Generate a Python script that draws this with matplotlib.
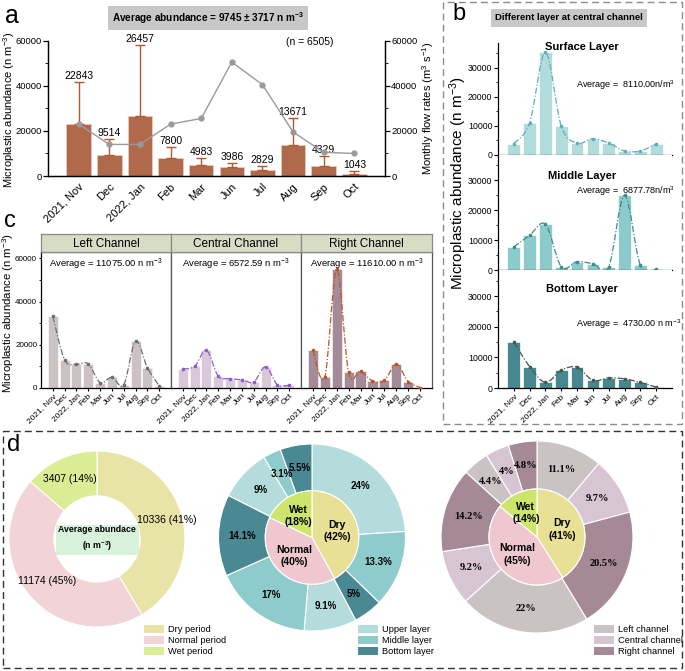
import numpy as np
import matplotlib
matplotlib.use('Agg')
import matplotlib.pyplot as plt
from matplotlib.path import Path
from matplotlib.patches import PathPatch, Rectangle, Patch
from matplotlib.ticker import AutoMinorLocator

plt.rcParams['font.family'] = ['Liberation Sans', 'DejaVu Sans']
plt.rcParams['mathtext.default'] = 'regular'
plt.rcParams['axes.linewidth'] = 0.9

# ---------------- data ----------------
months = ['2021, Nov', 'Dec', '2022, Jan', 'Feb', 'Mar', 'Jun', 'Jul', 'Aug', 'Sep', 'Oct']

# panel a
abund = [22843, 9514, 26457, 7800, 4983, 3986, 2829, 13671, 4329, 1043]
abund_err = [18957, 6700, 31550, 5000, 2920, 1710, 1570, 11830, 4470, 1260]
flow = [23000, 14000, 14000, 23000, 25500, 50500, 40500, 19500, 10500, 10000]

# panel b (central channel layers)
layer_names = ['Surface Layer', 'Middle Layer', 'Bottom Layer']
layer_avg = ['Average =  8110.00n/m$^{3}$', 'Average =  6877.78n/m$^{3}$', 'Average =  4730.00 n m$^{-3}$']
surface = [3900, 11100, 35300, 9900, 4100, 5600, 4100, 1400, 1400, 3800]
middle = [7700, 11600, 15300, 1100, 2800, 2100, 1100, 25000, 1600, 200]
bottom = [15000, 7000, 1800, 5800, 6800, 2500, 3300, 3000, 1800, 300]

# panel c (channels)
channel_names = ['Left Channel', 'Central Channel', 'Right Channel']
channel_avg = ['Average = 11075.00 n m$^{-3}$', 'Average = 6572.59 n m$^{-3}$', 'Average = 11610.00 n m$^{-3}$']
left_ch = [33200, 13000, 11000, 11200, 2500, 5000, 1500, 21800, 9400, 1000]
central_ch = [8800, 10000, 17500, 5500, 4300, 3800, 2800, 9800, 1500, 1300]
right_ch = [17500, 5000, 55000, 7200, 7800, 3300, 3500, 11000, 3000, 200]

# panel d
period_labels = ['Dry period', 'Normal period', 'Wet period']
period_values = [10336, 11174, 3407]
period_text = ['10336 (41%)', '11174 (45%)', '3407 (14%)']

inner_labels = ['Dry', 'Normal', 'Wet']
layer_inner = [42, 40, 18]
layer_outer = [24, 13.3, 5, 9.1, 17, 14.1, 9, 3.1, 5.5]
layer_legend = ['Upper layer', 'Middle layer', 'Bottom layer']

channel_inner = [41, 45, 14]
channel_outer = [11.1, 9.7, 20.5, 22, 9.2, 14.2, 4.4, 4, 4.8]
channel_legend = ['Left channel', 'Central channel', 'Right channel']

# ---------------- helpers ----------------
W, H = 685, 671
fig = plt.figure(figsize=(W / 100, H / 100), dpi=100)


def box(l, t, r, b):
    return [l / W, 1 - b / H, (r - l) / W, (b - t) / H]


def fx(x):
    return x / W


def fy(y):
    return 1 - y / H


def smooth_path(ax, xs, ys, color, lw=0.9, ls=(0, (5, 1.5, 1, 1.5))):
    xs = np.asarray(xs, float)
    ys = np.asarray(ys, float)
    n = len(xs)
    P = np.column_stack([xs, ys])
    verts = [P[0]]
    codes = [Path.MOVETO]
    for i in range(n - 1):
        p0 = P[i - 1] if i > 0 else P[i]
        p1 = P[i]
        p2 = P[i + 1]
        p3 = P[i + 2] if i + 2 < n else P[i + 1]
        c1 = p1 + (p2 - p0) / 6.0
        c2 = p2 - (p3 - p1) / 6.0
        verts += [c1, c2, p2]
        codes += [Path.CURVE4] * 3
    patch = PathPatch(Path(verts, codes), facecolor='none', edgecolor=color,
                      lw=lw, linestyle=ls, zorder=4, clip_on=True)
    ax.add_patch(patch)
    ax.plot(xs, ys, 'o', color=color, ms=1.6, zorder=5)


x = np.arange(len(months))

# ---------------- panel a ----------------
axa = fig.add_axes(box(48, 40.7, 385, 176))
axa.bar(x, abund, width=0.8, color='#b0694a', edgecolor='#e8c9b8', linewidth=0.6, zorder=2)
axa.errorbar(x, abund, yerr=[np.zeros(len(abund)), abund_err], fmt='none',
             ecolor='#b5562e', elinewidth=1.0, capsize=3.5, capthick=1.0, zorder=3)
for xi, v, e in zip(x, abund, abund_err):
    axa.text(xi, v + e + 500, f'{v}', ha='center', va='bottom', fontsize=7.5, zorder=6)
axa.set_xlim(-1, 10)
axa.set_ylim(0, 60000)
axa.set_yticks([0, 20000, 40000, 60000])
axa.yaxis.set_minor_locator(AutoMinorLocator(2))
axa.set_xticks(x)
axa.set_xticklabels(months, rotation=45, ha='right', rotation_mode='anchor', fontsize=8)
axa.tick_params(axis='x', length=0, pad=4)
axa.tick_params(axis='y', labelsize=6.8, length=3.5, width=0.9, pad=1)
axa.tick_params(axis='y', which='minor', length=2)
axa.spines['top'].set_visible(False)

axa2 = axa.twinx()
axa2.plot(x, flow, '-o', color='#9a9a9a', lw=1.0, ms=3.5, zorder=5)
axa2.set_ylim(0, 60000)
axa2.set_yticks([0, 20000, 40000, 60000])
axa2.yaxis.set_minor_locator(AutoMinorLocator(2))
axa2.tick_params(axis='y', labelsize=6.8, length=3.5, width=0.9, pad=1)
axa2.tick_params(axis='y', which='minor', length=2)
axa2.spines['top'].set_visible(False)
fig.text(fx(9), fy(110), 'Microplastic abundance (n m$^{-3}$)', fontsize=8,
         rotation=90, ha='center', va='center')
fig.text(fx(428), fy(108), 'Monthly flow rates (m$^{3}$ s$^{-1}$)', fontsize=8,
         rotation=90, ha='center', va='center')
fig.text(fx(310), fy(42), '(n = 6505)', fontsize=7.5, ha='center', va='center')

fig.text(fx(208), fy(18), 'Average abundance = 9745 ± 3717 n m$^{-3}$', fontsize=7.2,
         fontweight='bold', ha='center', va='center',
         bbox=dict(boxstyle='square,pad=0.4', fc='#c8c8c8', ec='none'))
fig.text(fx(5), fy(16), 'a', fontsize=18, ha='left', va='center')

# ---------------- panel b ----------------
fig.patches.append(Rectangle((fx(443), fy(424)), fx(682) - fx(443), fy(2) - fy(424),
                             transform=fig.transFigure, fill=False, ec='#8c8c8c',
                             lw=1.0, ls=(0, (5, 3)), figure=fig))
fig.text(fx(452), fy(14), 'b', fontsize=17, ha='left', va='center')
fig.text(fx(569), fy(18), 'Different layer at central channel', fontsize=6.8,
         fontweight='bold', ha='center', va='center',
         bbox=dict(boxstyle='square,pad=0.45', fc='#c8c8c8', ec='none'))

b_boxes = [(43, 155), (155, 270), (270, 388)]
b_data = [surface, middle, bottom]
b_colors = ['#b2dcdc', '#8dcacc', '#478790']
b_line = ['#5db0b4', '#3c8a90', '#46584a']
b_title_y = [47, 176, 289]
b_avg_y = [85, 191, 324]
for i in range(3):
    t, bt = b_boxes[i]
    ax = fig.add_axes(box(498, t, 672, bt))
    ax.bar(x, b_data[i], width=0.8, color=b_colors[i], edgecolor='white', linewidth=0.5, zorder=2)
    smooth_path(ax, x, b_data[i], b_line[i])
    ax.set_xlim(-1, 10)
    ax.set_ylim(0, 38500)
    ax.set_yticks([0, 10000, 20000, 30000])
    ax.yaxis.set_minor_locator(AutoMinorLocator(2))
    ax.spines['top'].set_visible(False)
    ax.spines['right'].set_visible(False)
    ax.tick_params(axis='y', labelsize=6.3, length=3, width=0.8, pad=1)
    ax.tick_params(axis='y', which='minor', length=1.8)
    ax.set_xticks(x)
    ax.tick_params(axis='x', length=2.5, width=0.8)
    if i < 2:
        ax.set_xticklabels([])
    else:
        ax.set_xticklabels(months, rotation=45, ha='right', rotation_mode='anchor', fontsize=6)
        ax.tick_params(axis='x', pad=1)
    fig.text(fx(582), fy(b_title_y[i]), layer_names[i], fontsize=8, fontweight='bold',
             ha='center', va='center')
    fig.text(fx(576), fy(b_avg_y[i]), layer_avg[i], fontsize=6.5, ha='left', va='center')
fig.text(fx(458), fy(183), 'Microplastic abundance (n m$^{-3}$)', fontsize=11,
         rotation=90, ha='center', va='center')

# ---------------- panel c ----------------
fig.text(fx(4), fy(221), 'c', fontsize=17, ha='left', va='center')
c_x = [(41, 171), (171, 301), (301, 432)]
c_data = [left_ch, central_ch, right_ch]
c_colors = ['#cbc3c3', '#d9c8d8', '#a58a97']
c_line = ['#6e6e6e', '#8a5cd2', '#c0531d']
for i in range(3):
    l, r = c_x[i]
    ax = fig.add_axes(box(l, 252, r, 388))
    ax.bar(x, c_data[i], width=0.85, color=c_colors[i], edgecolor='white', linewidth=0.4, zorder=2)
    smooth_path(ax, x, c_data[i], c_line[i])
    ax.set_xlim(-1, 10)
    ax.set_ylim(0, 63000)
    ax.set_xticks(x)
    ax.set_xticklabels(months, rotation=45, ha='right', rotation_mode='anchor', fontsize=6)
    ax.tick_params(axis='x', length=2, width=0.8, pad=1)
    for s in ['top', 'right']:
        ax.spines[s].set_color('#555555')
    if i == 0:
        ax.set_yticks([0, 20000, 40000, 60000])
        ax.yaxis.set_minor_locator(AutoMinorLocator(2))
        ax.tick_params(axis='y', labelsize=5.8, length=1.8, width=0.8, pad=1)
        ax.tick_params(axis='y', which='minor', length=1.2)
    else:
        ax.set_yticks([])
        ax.spines['left'].set_color('#555555')
    ax.text(0.5, 0.91, channel_avg[i], transform=ax.transAxes, fontsize=6.8,
            ha='center', va='center')
    sax = fig.add_axes(box(l, 234, r, 252))
    sax.set_facecolor('#d7dcc4')
    sax.set_xticks([])
    sax.set_yticks([])
    for s in sax.spines.values():
        s.set_color('#8a8a8a')
    sax.text(0.5, 0.45, channel_names[i], transform=sax.transAxes, fontsize=8.5,
             ha='center', va='center')
fig.text(fx(8), fy(313), 'Microplastic abundance (n m$^{-3}$)', fontsize=8.2,
         rotation=90, ha='center', va='center')

# ---------------- panel d ----------------
fig.patches.append(Rectangle((fx(3), fy(668)), fx(682) - fx(3), fy(431) - fy(668),
                             transform=fig.transFigure, fill=False, ec='#333333',
                             lw=1.0, ls=(0, (5, 3)), figure=fig))
fig.text(fx(7), fy(445), 'd', fontsize=17, ha='left', va='center')

# donut 1
cx, cy, R = 97, 539, 88
ax1 = fig.add_axes(box(cx - R, cy - R, cx + R, cy + R))
p_colors = ['#e8e4a8', '#f1d3d8', '#dbec95']
ax1.pie(period_values, colors=p_colors, startangle=90, counterclock=False,
        radius=1, wedgeprops=dict(width=0.51, edgecolor='white', linewidth=0.8))
ax1.set_xlim(-1, 1)
ax1.set_ylim(-1, 1)
tot = sum(period_values)
ang0 = 90
lab_r = [0.82, 0.74, 0.75]
for i, v in enumerate(period_values):
    span = v / tot * 360
    mid = np.deg2rad(ang0 - span / 2)
    ang0 -= span
    ax1.text(lab_r[i] * np.cos(mid), lab_r[i] * np.sin(mid), period_text[i],
             fontsize=7.5, ha='center', va='center')
ax1.text(0, 0, 'Average abundace\n(n m$^{-3}$)', fontsize=6.3, fontweight='bold',
         ha='center', va='center', linespacing=1.5,
         bbox=dict(boxstyle='square,pad=0.3', fc='#d8f1da', ec='none'))
ax1.legend([Patch(fc=c, ec='none') for c in p_colors], period_labels,
           loc='upper left', bbox_to_anchor=(fx(144), fy(625)), bbox_transform=fig.transFigure,
           frameon=False, fontsize=6.7, handlelength=2.2, handleheight=0.95,
           handletextpad=0.35, labelspacing=0.2, borderpad=0, borderaxespad=0)


def double_donut(cx, cy, R, r_in, inner, outer, outer_colors, leg_labels, leg_x,
                 fontfam, lab_fs):
    ax = fig.add_axes(box(cx - R, cy - R, cx + R, cy + R))
    in_colors = ['#e8e094', '#efc8cf', '#cde56b']
    ax.pie(outer, colors=outer_colors, startangle=90, counterclock=False, radius=1,
           wedgeprops=dict(width=1 - r_in, edgecolor='white', linewidth=0.8))
    ax.pie(inner, colors=in_colors, startangle=90, counterclock=False, radius=r_in,
           wedgeprops=dict(edgecolor='white', linewidth=0.8))
    ax.set_xlim(-1, 1)
    ax.set_ylim(-1, 1)
    tot = sum(outer)
    a0 = 90
    for v in outer:
        span = v / tot * 360
        mid = np.deg2rad(a0 - span / 2)
        a0 -= span
        ax.text(0.75 * np.cos(mid), 0.75 * np.sin(mid), f'{v:g}%', fontsize=lab_fs,
                fontweight='bold', ha='center', va='center', family=fontfam)
    tot = sum(inner)
    a0 = 90
    for name, v in zip(inner_labels, inner):
        span = v / tot * 360
        mid = np.deg2rad(a0 - span / 2)
        a0 -= span
        rr = r_in * 0.55
        ax.text(rr * np.cos(mid), rr * np.sin(mid), f'{name}\n({v}%)', fontsize=7.5,
                fontweight='bold', ha='center', va='center', linespacing=1.3)
    leg_cols = [outer_colors[0], outer_colors[1], outer_colors[2]]
    ax.legend([Patch(fc=c, ec='none') for c in leg_cols], leg_labels,
              loc='upper left', bbox_to_anchor=(fx(leg_x), fy(625)), bbox_transform=fig.transFigure,
              frameon=False, fontsize=6.7, handlelength=2.2, handleheight=0.95,
              handletextpad=0.35, labelspacing=0.2, borderpad=0, borderaxespad=0)


lay_cols = ['#b4dcdc', '#8ecbcd', '#4a8993']
double_donut(312, 537.5, 93.5, 0.5, layer_inner, layer_outer,
             [lay_cols[k % 3] for k in range(9)], layer_legend, 358,
             ['Liberation Sans', 'DejaVu Sans'], 7.0)
ch_cols = ['#cbc3c3', '#d8c5d3', '#a58997']
double_donut(537, 537, 96, 0.5, channel_inner, channel_outer,
             [ch_cols[k % 3] for k in range(9)], channel_legend, 594,
             ['Liberation Serif', 'DejaVu Serif'], 7.5)

fig.savefig('out.png', dpi=100)
